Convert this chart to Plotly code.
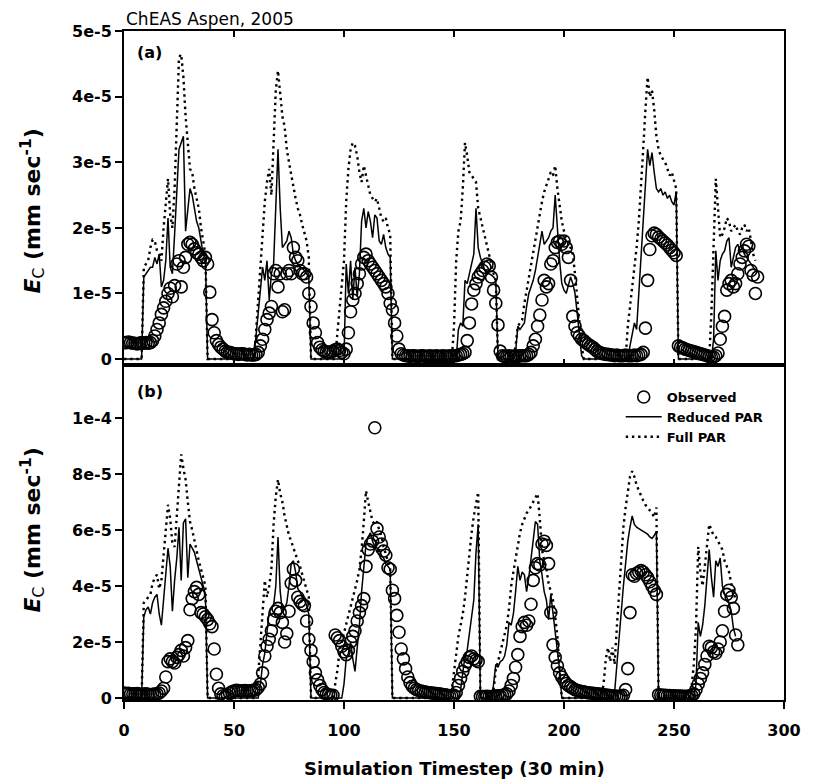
import plotly.graph_objects as go

# ---------------- data (units of 1e-5 mm/sec) ----------------
# Panel (a): observed, timesteps 0..288
obs_a = [
    0.25, 0.25, 0.26, 0.25, 0.24, 0.24, 0.23, 0.24, 0.25, 0.24, 0.25, 0.24, 0.25,
    0.28, 0.35, 0.45, 0.55, 0.68, 0.78, 0.88, 1.0, 1.08, 0.95, 1.12, 1.45, 1.5, 1.1, 1.4, 1.55,
    1.75, 1.78, 1.75, 1.68, 1.62, 1.6, 1.55, 1.5, 1.55, 1.45, 1.02, 0.6, 0.4, 0.28, 0.22, 0.18,
    0.15, 0.12, 0.1,
    0.1, 0.09, 0.08, 0.08, 0.07, 0.08, 0.08, 0.07, 0.06, 0.07, 0.06,
    0.06, 0.07, 0.1, 0.2, 0.3, 0.45, 0.6, 0.7, 0.8, 1.3, 1.35, 1.1, 1.3, 0.72, 0.75, 1.3, 1.35,
    1.3, 1.7, 1.55, 1.5, 1.35, 1.3, 1.3, 1.25, 1.0, 0.8, 0.55, 0.4, 0.25, 0.18, 0.14, 0.12, 0.1,
    0.1, 0.11, 0.12, 0.14, 0.15, 0.13, 0.1,
    0.08, 0.15, 0.4, 0.72, 0.9, 1.0, 1.15, 1.3, 1.45, 1.55, 1.6, 1.5, 1.45, 1.4, 1.35, 1.3, 1.25,
    1.2, 1.15, 1.1, 1.0, 0.85, 0.75, 0.55, 0.35, 0.15, 0.08,
    0.06, 0.05, 0.05, 0.04, 0.05, 0.05, 0.04, 0.04, 0.05, 0.05, 0.04, 0.04, 0.05, 0.04, 0.04,
    0.05, 0.04, 0.04, 0.05, 0.04, 0.04, 0.05,
    0.04, 0.05, 0.05, 0.06, 0.07, 0.08, 0.1, 0.28, 0.55, 0.84, 1.05, 1.15, 1.25, 1.3, 1.35, 1.4,
    1.45, 1.42, 1.25, 1.05, 0.85, 0.52, 0.12,
    0.05, 0.04, 0.04, 0.05, 0.04, 0.04, 0.05, 0.04, 0.05, 0.05, 0.05,
    0.05, 0.07, 0.1, 0.2, 0.3, 0.5, 0.67, 0.9, 1.2, 1.1, 1.15, 1.45, 1.5, 1.7, 1.78, 1.8, 1.75,
    1.8, 1.7, 1.55, 1.2, 0.65, 0.5, 0.4, 0.35, 0.3, 0.28, 0.25, 0.22, 0.2, 0.18, 0.15, 0.12,
    0.1, 0.09, 0.08,
    0.07, 0.07, 0.06, 0.06, 0.05, 0.06, 0.05, 0.05, 0.05, 0.06, 0.05, 0.05, 0.05, 0.06, 0.05,
    0.06, 0.07,
    0.1, 0.47, 1.2, 1.67, 1.88, 1.92, 1.9, 1.86, 1.83, 1.8, 1.77, 1.74, 1.7, 1.66, 1.62, 1.58,
    0.2, 0.18, 0.17, 0.15, 0.14, 0.13, 0.12, 0.11, 0.1, 0.09, 0.08, 0.07, 0.06, 0.05, 0.04,
    0.03, 0.03,
    0.05, 0.09, 0.3, 0.5, 0.65, 1.05, 1.15, 1.2, 1.1, 1.15, 1.3, 1.45, 1.55, 1.65, 1.75, 1.72,
    1.35, 1.28, 1.0, 1.25,
]

# Panel (a): Reduced PAR model, timesteps 0..287
reduced_a = [
    0, 0, 0, 0, 0, 0, 0, 0, 0,
    1.25, 1.3, 1.35, 1.4, 1.4, 1.55, 1.45, 1.6, 1.1, 1.2, 1.5, 2.15, 1.4, 1.3, 1.9, 2.6, 3.2,
    3.3, 3.4, 1.95, 2.3, 2.6, 2.5, 2.3, 2.1, 2.0, 1.8, 1.6, 1.55,
    0, 0, 0, 0, 0, 0, 0, 0, 0, 0,
    0, 0, 0, 0, 0, 0, 0, 0, 0, 0,
    0, 0,
    0.35, 0.7, 1.05, 1.4, 1.2, 1.5, 0.9, 1.3, 1.45, 2.2, 3.2, 2.3, 1.7, 1.75, 1.8, 1.95, 1.85,
    1.6, 1.5, 1.45, 1.4, 1.38, 1.35, 1.3, 1.25,
    0, 0, 0, 0, 0, 0, 0, 0, 0, 0,
    0, 0, 0, 0, 0, 0,
    1.45, 1.0, 1.5, 0.9, 1.4, 0.95, 1.3, 2.1, 2.3, 2.0, 2.25, 2.1, 1.85, 2.2, 2.15, 1.8, 1.75,
    1.9, 1.7, 1.6, 1.55,
    0, 0, 0, 0, 0, 0, 0, 0, 0, 0,
    0, 0, 0, 0, 0, 0, 0, 0, 0, 0,
    0, 0, 0, 0, 0, 0, 0, 0, 0, 0,
    0.45, 0.55, 0.5, 1.2, 1.15, 1.3, 1.5, 1.6, 2.3, 1.7, 1.55, 1.45, 1.35, 1.3, 1.3, 1.28,
    1.25, 1.2,
    0, 0, 0, 0, 0, 0, 0, 0,
    0.1, 0.5, 0.45, 0.5, 0.55, 0.8, 1.0, 1.1, 1.2, 1.35, 1.55, 1.7, 1.95, 1.75, 1.8, 1.85, 1.95,
    2.0, 2.5, 1.9, 1.5, 1.15, 1.05, 1.0, 1.15, 1.25, 1.15, 1.0, 0.7, 0.4, 0.05,
    0, 0, 0, 0, 0, 0, 0, 0, 0, 0,
    0, 0, 0, 0, 0, 0, 0, 0, 0, 0,
    0,
    0.2, 0.4, 0.55, 0.45, 1.0, 1.6, 2.2, 2.8, 3.2, 2.95, 3.15, 2.85, 2.6, 2.55, 2.6, 2.5, 2.55,
    2.45, 2.5, 2.4, 2.35, 2.55,
    0, 0, 0, 0, 0, 0, 0, 0, 0, 0,
    0, 0, 0, 0, 0, 0,
    0.3, 1.65, 1.2, 1.5, 1.6, 1.65, 1.8, 1.85, 1.4, 1.55, 1.7, 1.75, 1.65, 1.7, 1.6, 1.55, 1.5,
    1.45, 1.4, 1.35,
]

# Panel (a): Full PAR model, timesteps 0..287
full_a = [
    0, 0, 0, 0, 0, 0, 0, 0, 0,
    1.4, 1.45, 1.5, 1.7, 1.82, 1.8, 1.65, 1.6, 1.5, 2.0, 2.4, 2.75, 2.2, 2.0, 2.6, 3.6, 4.6,
    4.65, 4.3, 3.7, 3.3, 2.9, 2.85, 2.6, 2.45, 2.3, 2.0, 1.8, 1.6,
    0, 0, 0, 0, 0, 0, 0, 0, 0, 0,
    0, 0, 0, 0, 0, 0, 0, 0, 0, 0,
    0, 0,
    0.4, 0.9, 1.4, 1.9, 2.4, 2.7, 2.9, 2.5, 3.2, 4.1, 4.4, 4.0, 3.7, 3.55, 3.2, 3.0, 2.8, 2.6,
    2.45, 2.3, 2.2, 2.05, 1.9, 1.8, 1.55,
    0, 0, 0, 0, 0, 0, 0, 0, 0, 0,
    0, 0,
    0.4, 0.8, 1.2, 1.5, 2.4, 2.9, 3.2, 3.3, 3.25, 3.1, 2.85, 2.7, 2.95, 2.8, 2.65, 2.5, 2.45,
    2.4, 2.45, 2.3, 2.15, 2.1, 2.15, 2.0, 1.9,
    0, 0, 0, 0, 0, 0, 0, 0, 0, 0,
    0, 0, 0, 0, 0, 0, 0, 0, 0, 0,
    0, 0, 0, 0, 0, 0, 0, 0,
    0.5, 1.5, 1.95, 2.1, 2.6, 3.3, 3.1, 2.85, 2.8, 2.75, 2.7, 2.3, 2.15, 2.0, 1.85, 1.7, 1.6,
    1.45, 1.3, 1.2,
    0, 0, 0, 0, 0, 0, 0, 0,
    0.2, 0.5, 0.55, 0.6, 0.85, 1.05, 1.25, 1.45, 1.6, 1.8, 2.0, 2.2, 2.4, 2.55, 2.65, 2.75,
    2.85, 2.8, 2.95, 2.6, 2.3, 2.1, 1.95, 1.85, 1.8, 1.7, 1.6, 1.3, 0.95, 0.6, 0.2,
    0, 0, 0, 0, 0, 0, 0, 0, 0, 0,
    0, 0, 0, 0, 0, 0, 0, 0, 0, 0,
    0.5, 0.8, 1.0, 1.3, 1.7, 2.1, 2.6, 3.2, 3.8, 4.3, 4.0, 4.1, 3.8, 3.4, 3.2, 3.1, 3.05, 3.0,
    2.9, 2.8, 2.85, 2.7, 2.6,
    0, 0, 0, 0, 0, 0, 0, 0, 0, 0,
    0, 0, 0, 0, 0,
    0.7, 1.8, 2.75, 2.3, 1.85, 1.9, 2.0, 2.15, 2.1, 1.95, 2.0, 2.05, 1.95, 1.9, 2.0, 2.05, 1.95,
    2.0, 1.8, 1.6, 1.5,
]

# Panel (b): observed, timesteps 0..279
obs_b = [
    0.18, 0.16, 0.17, 0.15, 0.14, 0.15, 0.16, 0.14, 0.13, 0.14, 0.15, 0.13, 0.12, 0.13, 0.14, 0.15,
    0.18, 0.25, 0.35, 0.75, 1.3, 1.4, 1.3, 1.25, 1.45, 1.55, 1.7, 1.5, 1.8, 2.05, 3.15, 3.55,
    3.8, 3.95, 3.7, 3.05, 3.0, 2.9, 2.8, 2.65, 2.55, 1.75, 0.85, 0.35, 0.15, 0.08, 0.05,
    0.1, 0.17, 0.22, 0.25, 0.28, 0.27, 0.26, 0.25, 0.27, 0.26, 0.25, 0.27, 0.28, 0.3, 0.38,
    0.5, 0.9, 1.5, 1.85, 2.1, 2.4, 2.8, 3.1, 3.2, 3.05, 2.7, 2.0, 2.3, 3.1, 4.1, 4.6, 4.2, 3.6,
    3.45, 3.35, 3.3, 2.75, 2.1, 1.7, 1.3, 0.9, 0.65, 0.45, 0.3, 0.2, 0.15, 0.12, 0.1,
    0.1, 2.25, 2.15, 2.05, 1.85, 1.65, 1.55, 1.7, 2.0, 2.2, 2.4, 2.75, 3.05, 3.3, 3.55, 4.7,
    5.3, 5.5, 5.6, 9.65, 6.05, 5.75, 5.5, 5.25, 5.1, 4.65, 4.6, 3.85, 3.55, 2.95, 2.35, 1.75,
    1.4, 1.05, 0.75, 0.55, 0.42, 0.35, 0.3, 0.27, 0.25, 0.23, 0.21, 0.2, 0.19, 0.18, 0.17,
    0.16, 0.15, 0.14, 0.12, 0.12, 0.1, 0.08, 0.08, 0.1,
    0.2, 0.45, 0.7, 0.95, 1.15, 1.3, 1.45, 1.5, 1.4, 1.35, 1.3,
    0.06, 0.05, 0.05, 0.06, 0.05, 0.05, 0.06, 0.07, 0.08, 0.08,
    0.1, 0.12, 0.15, 0.25, 0.45, 0.7, 1.1, 1.55, 2.2, 2.55, 2.7, 2.6, 2.75, 3.35, 4.2, 4.65,
    4.8, 4.75, 5.5, 5.6, 5.45, 4.8, 3.05, 1.9, 1.45, 1.15, 0.9, 0.75, 0.62, 0.52, 0.45, 0.4,
    0.35, 0.3, 0.27, 0.25,
    0.23, 0.22, 0.2, 0.19, 0.18, 0.17, 0.16, 0.15, 0.14, 0.13, 0.12, 0.11, 0.1, 0.09, 0.08,
    0.07, 0.06, 0.06, 0.07, 0.1,
    0.3, 1.05, 3.05, 4.4, 4.35, 4.45, 4.5, 4.55, 4.5, 4.4, 4.3, 4.15, 4.0, 3.85, 3.7,
    0.12, 0.11, 0.1, 0.1, 0.09, 0.09, 0.08, 0.08, 0.07, 0.07, 0.07, 0.06, 0.06, 0.06, 0.07, 0.1,
    0.15, 0.3, 0.5, 0.7, 0.9, 1.2, 1.5, 1.85, 1.8, 1.65, 1.6, 1.75, 2.0, 2.4, 3.1, 3.7, 3.85,
    3.6, 3.2, 2.25, 1.9,
]

# Panel (b): Reduced PAR model, timesteps 0..278
reduced_b = [
    0, 0, 0, 0, 0, 0, 0, 0, 0,
    2.9, 3.15, 3.25, 3.0, 3.4, 3.6, 3.7, 3.0, 2.6, 3.6, 4.6, 5.35, 4.7, 3.1, 4.2, 5.0, 6.1,
    4.2, 6.25, 6.4, 4.3, 5.5, 5.35, 5.2, 4.9, 4.6, 4.2, 4.0, 3.7,
    0, 0, 0, 0, 0, 0, 0, 0, 0, 0,
    0, 0, 0, 0, 0, 0, 0, 0, 0, 0,
    0, 0, 0, 0,
    0.5, 1.2, 1.6, 2.5, 3.1, 3.2, 3.3, 4.0, 5.75, 3.8, 3.1, 3.2, 3.4, 4.0, 4.8, 4.9, 4.5, 3.9,
    3.8, 3.6, 3.5, 3.3, 3.0,
    0, 0, 0, 0, 0, 0, 0, 0, 0, 0,
    0, 0, 0, 0, 0,
    0.5, 1.4, 1.6, 2.0, 1.4, 0.95, 1.8, 2.6, 3.8, 4.6, 5.5, 5.75, 5.9, 5.6, 5.4, 5.2, 5.3, 5.1,
    5.0, 4.8, 4.7, 4.6,
    0, 0, 0, 0, 0, 0, 0, 0, 0, 0,
    0, 0, 0, 0, 0, 0, 0, 0, 0, 0,
    0, 0, 0, 0, 0, 0, 0, 0, 0, 0,
    0,
    0.3, 0.9, 1.5, 1.7, 2.3, 2.9, 3.5, 5.2, 6.2,
    0, 0, 0, 0, 0, 0,
    0.5, 1.2, 1.1, 1.3, 1.35, 1.5, 1.9, 2.7, 2.6, 3.0, 3.8, 4.7, 4.2, 4.5, 4.4, 3.8, 4.3, 5.0,
    5.5, 6.3, 6.2, 4.9, 4.4, 3.8, 3.5, 2.8, 3.7, 3.0, 2.4, 1.8, 1.0,
    0, 0, 0, 0, 0, 0, 0, 0, 0, 0,
    0, 0, 0, 0, 0, 0, 0, 0, 0, 0,
    0, 0, 0, 0,
    0.2, 1.2, 2.0, 3.0, 4.0, 4.8, 5.6, 6.1, 6.5, 6.2, 6.1, 6.05, 6.0, 5.95, 5.9, 5.85, 5.75,
    5.7, 5.8, 5.95,
    0, 0, 0, 0, 0, 0, 0, 0, 0, 0,
    0, 0, 0, 0, 0, 0, 0,
    0.5, 2.7, 2.2, 2.6, 3.3, 4.4, 5.3, 4.3, 3.6, 4.9, 4.7, 5.0, 4.0, 3.7, 3.6, 3.4, 3.1, 2.5, 2.2,
]

# Panel (b): Full PAR model, timesteps 0..278
full_b = [
    0, 0, 0, 0, 0, 0, 0, 0, 0,
    3.4, 3.5, 3.6, 3.7, 4.1, 4.3, 4.4, 3.9, 4.2, 5.2, 6.1, 6.9, 6.4, 5.5, 5.4, 6.4, 7.5, 8.7,
    8.2, 7.8, 7.0, 6.3, 6.0, 5.6, 5.3, 4.9, 4.6, 4.3, 4.0,
    0, 0, 0, 0, 0, 0, 0, 0, 0, 0,
    0, 0, 0, 0, 0, 0, 0, 0, 0, 0,
    0, 0, 0,
    0.8, 2.0, 3.0, 4.2, 3.6, 4.0, 4.6, 6.2, 7.2, 7.8, 7.3, 7.0, 6.5, 6.1, 5.8, 5.6, 5.35, 5.15,
    4.9, 4.7, 4.4, 4.1, 3.8, 3.6,
    0, 0, 0, 0, 0, 0, 0, 0, 0, 0,
    0,
    0.5, 1.0, 1.7, 2.0, 2.3, 2.6, 3.0, 3.3, 3.6, 3.9, 4.2, 4.6, 5.3, 6.3, 7.4, 7.0, 6.6, 6.3,
    6.2, 6.3, 6.0, 5.8, 5.4, 5.1, 4.8, 4.6,
    0, 0, 0, 0, 0, 0, 0, 0, 0, 0,
    0, 0, 0, 0, 0, 0, 0, 0, 0, 0,
    0, 0, 0, 0, 0, 0, 0,
    0.3, 1.0, 1.6, 2.2, 2.6, 3.0, 3.6, 4.4, 5.2, 5.9, 6.5, 7.0, 7.35,
    0, 0, 0, 0, 0, 0,
    0.3, 1.0, 1.3, 1.6, 2.0, 2.3, 2.6, 3.2, 4.0, 4.5, 5.0, 5.5, 5.9, 6.2, 6.4, 6.6, 6.7, 6.85,
    7.0, 7.1, 7.3, 6.4, 5.3, 4.9, 4.6, 4.1, 3.8, 3.5, 2.9, 2.2, 1.0,
    0, 0, 0, 0, 0, 0, 0, 0, 0, 0,
    0, 0, 0, 0, 0, 0, 0, 0, 0,
    0.5, 1.4, 1.8, 1.3, 1.8, 1.2, 2.5, 3.8, 5.0, 6.1, 6.8, 7.4, 7.9, 8.1, 7.9, 7.6, 7.4, 7.2,
    7.05, 6.9, 6.8, 6.7, 6.6, 6.45, 6.8,
    0, 0, 0, 0, 0, 0, 0, 0, 0, 0,
    0, 0, 0, 0, 0,
    0.4, 1.2, 2.5, 5.4, 4.5, 4.0, 4.7, 5.5, 6.2, 6.0, 5.8, 5.75, 5.6, 5.5, 5.3, 4.9, 4.7, 4.5,
    4.1, 3.8, 3.5,
]

x_ticks = [0, 50, 100, 150, 200, 250, 300]
ya_ticks = [0, 1e-5, 2e-5, 3e-5, 4e-5, 5e-5]
ya_text = ["0", "1e-5", "2e-5", "3e-5", "4e-5", "5e-5"]
yb_ticks = [0, 2e-5, 4e-5, 6e-5, 8e-5, 1e-4]
yb_text = ["0", "2e-5", "4e-5", "6e-5", "8e-5", "1e-4"]

SCALE = 1e-5


def scaled(vals):
    return [v * SCALE for v in vals]


def steps(vals):
    return list(range(len(vals)))


# ---------------- figure ----------------
W, H = 813, 781
ML, MR, MT, MB = 124, 18, 31, 81
plot_h = H - MT - MB
split = (700 - 365) / plot_h

fig = go.Figure()

dot_style = dict(color="black", width=2.4, dash="2.4px,3.8px")
solid_style = dict(color="black", width=1.5)
marker_style = dict(symbol="circle-open", size=12, color="black", line=dict(width=1.6, color="black"))

for xs, ys, obs, red, full, show in [
    ("x", "y", obs_a, reduced_a, full_a, False),
    ("x2", "y2", obs_b, reduced_b, full_b, True),
]:
    fig.add_trace(go.Scatter(x=steps(full), y=scaled(full), mode="lines", line=dot_style,
                             name="Full PAR", xaxis=xs, yaxis=ys, showlegend=show, legendrank=3))
    fig.add_trace(go.Scatter(x=steps(red), y=scaled(red), mode="lines", line=solid_style,
                             name="Reduced PAR", xaxis=xs, yaxis=ys, showlegend=show, legendrank=2))
    fig.add_trace(go.Scatter(x=steps(obs), y=scaled(obs), mode="markers", marker=marker_style,
                             name="Observed", xaxis=xs, yaxis=ys, showlegend=show, legendrank=1))

tickfont = dict(family="DejaVu Sans", size=16, color="black", weight="bold")
axis_common = dict(showline=True, linecolor="black", linewidth=2, showgrid=False, zeroline=False,
                   tickcolor="black", tickwidth=1.5)

fig.update_layout(
    width=W, height=H,
    margin=dict(l=ML, r=MR, t=MT, b=MB),
    paper_bgcolor="white", plot_bgcolor="white",
    xaxis=dict(domain=[0, 1], anchor="y", range=[0, 300], tickvals=x_ticks, ticks="inside",
               ticklen=6, mirror="ticks", showticklabels=False, **axis_common),
    yaxis=dict(domain=[split, 1], anchor="x", range=[-0.092e-5, 5.005e-5], tickvals=ya_ticks,
               ticktext=ya_text, ticks="outside", ticklen=7, mirror=True, tickfont=tickfont,
               **axis_common),
    xaxis2=dict(domain=[0, 1], anchor="y2", range=[0, 300], tickvals=x_ticks,
                ticktext=[str(v) for v in x_ticks], ticks="outside", ticklen=7, mirror=True,
                tickfont=tickfont, ticklabelstandoff=8, **axis_common),
    yaxis2=dict(domain=[0, split], anchor="x2", range=[-0.07e-5, 11.89e-5], tickvals=yb_ticks,
                ticktext=yb_text, ticks="outside", ticklen=7, mirror=True, tickfont=tickfont,
                **axis_common),
    legend=dict(x=(629 - ML) / (W - ML - MR), y=(700 - 382) / plot_h, xanchor="left",
                yanchor="top", bgcolor="rgba(0,0,0,0)", borderwidth=0, itemwidth=36,
                font=dict(family="DejaVu Sans", size=13, color="black", weight="bold")),
    showlegend=True,
)


def py(p):
    return (700 - p) / plot_h


def px(p):
    return (p - ML) / (W - ML - MR)


ann = []
ann.append(dict(text="ChEAS Aspen, 2005", x=0, y=py(19), xref="paper", yref="paper",
                xanchor="left", yanchor="middle", showarrow=False,
                font=dict(family="DejaVu Sans", size=17, color="black")))
ann.append(dict(text="(a)", x=px(135), y=py(53), xref="paper", yref="paper", xanchor="left",
                yanchor="middle", showarrow=False,
                font=dict(family="DejaVu Sans", size=16, color="black", weight="bold")))
ann.append(dict(text="(b)", x=px(135), y=py(391), xref="paper", yref="paper", xanchor="left",
                yanchor="middle", showarrow=False,
                font=dict(family="DejaVu Sans", size=16, color="black", weight="bold")))
ytitle = ("<i>E</i><sub><span style='font-weight:normal'>C</span></sub>"
          " (mm sec<sup>-1</sup>)")
for cy in (211, 530):
    ann.append(dict(text=ytitle, x=px(31), y=py(cy), xref="paper", yref="paper",
                    xanchor="center", yanchor="middle", textangle=-90, showarrow=False,
                    font=dict(family="DejaVu Sans", size=22, color="black", weight="bold")))
ann.append(dict(text="Simulation Timestep (30 min)", x=0.5, y=py(768), xref="paper", yref="paper",
                xanchor="center", yanchor="middle", showarrow=False,
                font=dict(family="DejaVu Sans", size=18, color="black", weight="bold")))
fig.update_layout(annotations=ann)

fig.write_html("out.html")
